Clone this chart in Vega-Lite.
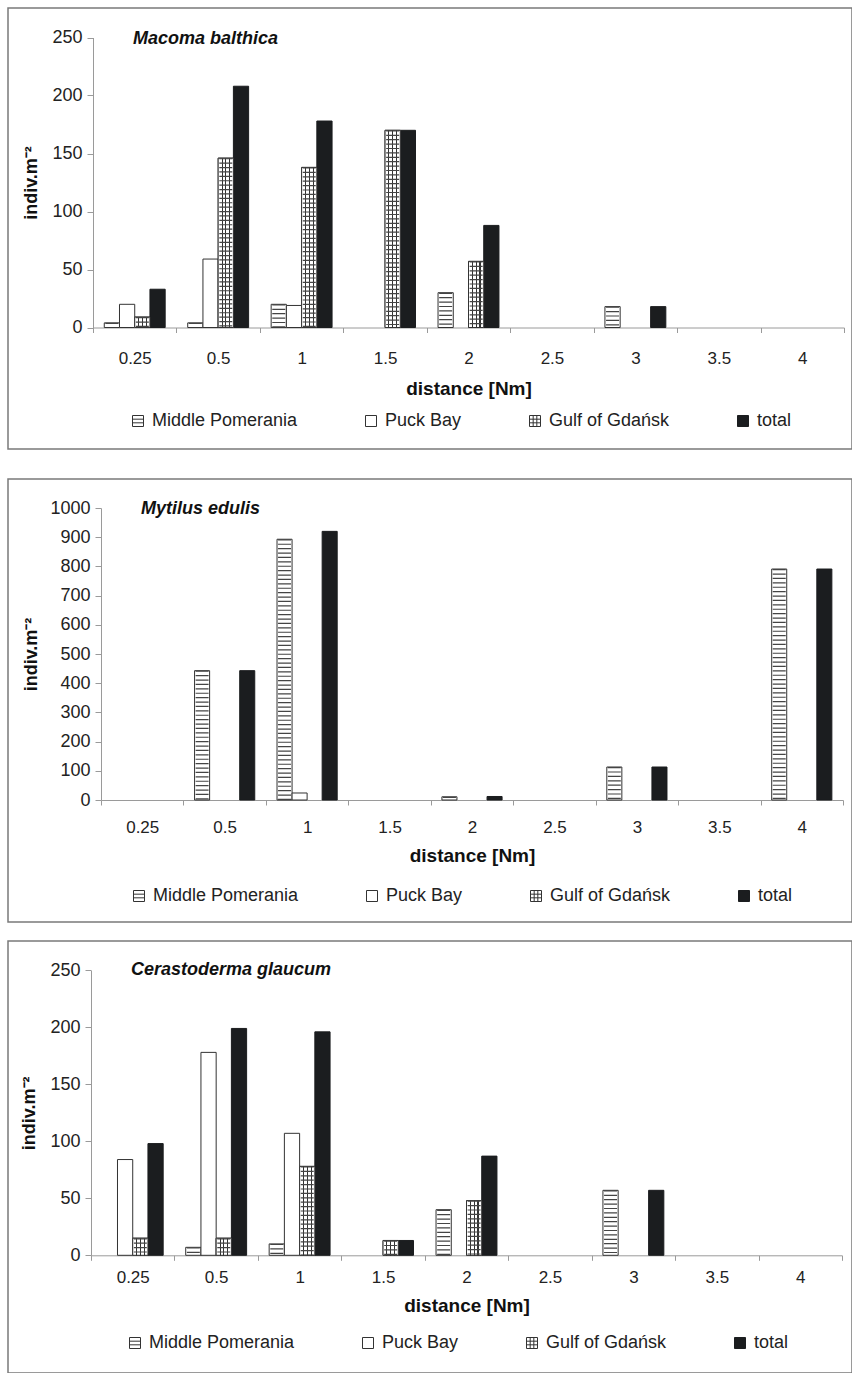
{
  "$schema": "https://vega.github.io/schema/vega-lite/v6.json",
  "padding": {"left": 7, "top": 7, "right": 0, "bottom": 0},
  "spacing": 17,
  "config": {
    "font": "Liberation Sans",
    "view": {"stroke": "#7a7a7a", "strokeWidth": 1.5},
    "axis": {"domainColor": "#9a9a9a", "tickColor": "#9a9a9a", "grid": false, "labelFont": "Liberation Sans", "titleFont": "Liberation Sans", "labelColor": "#222", "titleColor": "#111", "domainWidth": 1, "tickWidth": 1}
  },
  "resolve": {"scale": {"x": "independent", "y": "independent", "xOffset": "independent", "shape": "independent", "fill": "independent", "stroke": "independent"}, "legend": {"shape": "independent", "fill": "independent", "stroke": "independent"}, "axis": {"x": "independent", "y": "independent"}},
  "vconcat": [
    {
      "spacing": 28,
      "resolve": {"scale": {"x": "independent", "y": "independent", "xOffset": "independent", "shape": "independent", "fill": "independent", "stroke": "independent"}, "legend": {"shape": "independent", "fill": "independent", "stroke": "independent"}, "axis": {"x": "independent", "y": "independent"}},
      "vconcat": [
        {
          "width": 844, "height": 441,
          "title": {"text": "Macoma balthica", "anchor": "start", "frame": "group", "offset": 0, "baseline": "alphabetic", "dx": 125, "dy": 54, "fontSize": 18, "fontStyle": "italic", "fontWeight": "bold", "font": "Liberation Sans", "color": "#111"},
          "data": {"values": [
            {"dist": "0.25", "region": "Middle Pomerania", "value": 4},
            {"dist": "0.25", "region": "Puck Bay", "value": 20},
            {"dist": "0.25", "region": "Gulf of Gdańsk", "value": 9},
            {"dist": "0.25", "region": "total", "value": 33},
            {"dist": "0.5", "region": "Middle Pomerania", "value": 4},
            {"dist": "0.5", "region": "Puck Bay", "value": 59},
            {"dist": "0.5", "region": "Gulf of Gdańsk", "value": 146},
            {"dist": "0.5", "region": "total", "value": 208},
            {"dist": "1", "region": "Middle Pomerania", "value": 20},
            {"dist": "1", "region": "Puck Bay", "value": 19},
            {"dist": "1", "region": "Gulf of Gdańsk", "value": 138},
            {"dist": "1", "region": "total", "value": 178},
            {"dist": "1.5", "region": "Gulf of Gdańsk", "value": 170},
            {"dist": "1.5", "region": "total", "value": 170},
            {"dist": "2", "region": "Middle Pomerania", "value": 30},
            {"dist": "2", "region": "Gulf of Gdańsk", "value": 57},
            {"dist": "2", "region": "total", "value": 88},
            {"dist": "3", "region": "Middle Pomerania", "value": 18},
            {"dist": "3", "region": "total", "value": 18}
          ]},
          "encoding": {
            "x": {"field": "dist", "type": "ordinal", "scale": {"domain": ["0.25", "0.5", "1", "1.5", "2", "2.5", "3", "3.5", "4"], "range": [85, 836], "paddingInner": 0, "paddingOuter": 0},
              "axis": {"title": "distance [Nm]", "offset": -121.5, "tickBand": "extent", "tickSize": 5, "labelPadding": 18, "labelFontSize": 17, "labelAngle": 0, "titleFontSize": 19, "titleFontWeight": "bold", "titlePadding": 13}},
            "xOffset": {"field": "region", "type": "nominal", "scale": {"domain": ["Middle Pomerania", "Puck Bay", "Gulf of Gdańsk", "total"], "paddingInner": 0, "paddingOuter": 0.74}},
            "y": {"field": "value", "type": "quantitative", "stack": null, "scale": {"domain": [0, 250], "range": [319.5, 29.5], "nice": false},
              "axis": {"title": "indiv.m⁻²", "offset": -85, "values": [0, 50, 100, 150, 200, 250], "format": "d", "tickSize": 6, "labelPadding": 5, "labelFontSize": 18, "titleFontSize": 18, "titleFontWeight": "bold", "titlePadding": 11}}
          },
          "layer": [
            {"transform": [{"filter": "datum.region !== 'total'"}], "mark": {"type": "bar", "fill": "white", "stroke": "#333", "strokeWidth": 1}},
            {"transform": [{"filter": "datum.region === 'total'"}], "mark": {"type": "bar", "fill": "#1b1d1f", "stroke": "#1b1d1f", "strokeWidth": 1}},
            {"transform": [{"filter": "datum.region === 'Gulf of Gdańsk'"}], "mark": {"type": "bar", "stroke": "#333", "strokeWidth": 1, "fill": {"gradient": "linear", "x1": 0, "y1": 0, "x2": 1, "y2": 0, "stops": [{"offset": 0, "color": "white"}, {"offset": 0.22, "color": "white"}, {"offset": 0.22, "color": "#333"}, {"offset": 0.29, "color": "#333"}, {"offset": 0.29, "color": "white"}, {"offset": 0.47, "color": "white"}, {"offset": 0.47, "color": "#333"}, {"offset": 0.54, "color": "#333"}, {"offset": 0.54, "color": "white"}, {"offset": 0.72, "color": "white"}, {"offset": 0.72, "color": "#333"}, {"offset": 0.79, "color": "#333"}, {"offset": 0.79, "color": "white"}, {"offset": 1, "color": "white"}]}}},
            {"transform": [{"filter": "datum.region === 'Middle Pomerania' || datum.region === 'Gulf of Gdańsk'"}], "mark": {"type": "rule", "strokeWidth": 13, "strokeDash": [1.2, 3.2], "color": "#444"}, "encoding": {"y2": {"datum": 0}}},
            {"transform": [{"filter": "false"}], "mark": {"type": "point", "filled": true, "strokeWidth": 1, "opacity": 1},
              "encoding": {
                "shape": {"field": "region", "type": "nominal", "scale": {"domain": ["Middle Pomerania", "Puck Bay", "Gulf of Gdańsk", "total"], "range": ["M-1,-1H1V1H-1Z M-1,-0.33H1 M-1,0.33H1", "M-1,-1H1V1H-1Z", "M-1,-1H1V1H-1Z M-1,-0.33H1 M-1,0.33H1 M-0.33,-1V1 M0.33,-1V1", "M-1,-1H1V1H-1Z"]},
                  "legend": {"orient": "none", "legendX": 121, "legendY": 404, "direction": "horizontal", "columns": 4, "columnPadding": 64, "title": null, "symbolSize": 121, "symbolStrokeWidth": 1, "symbolOpacity": 1, "labelFontSize": 18, "labelFont": "Liberation Sans", "labelColor": "#222", "labelOffset": 5}},
                "fill": {"field": "region", "type": "nominal", "scale": {"domain": ["Middle Pomerania", "Puck Bay", "Gulf of Gdańsk", "total"], "range": ["white", "white", "white", "#1b1d1f"]},
                  "legend": {"orient": "none", "legendX": 121, "legendY": 404, "direction": "horizontal", "columns": 4, "columnPadding": 64, "title": null, "symbolSize": 121, "symbolStrokeWidth": 1, "symbolOpacity": 1, "labelFontSize": 18, "labelFont": "Liberation Sans", "labelColor": "#222", "labelOffset": 5}},
                "stroke": {"field": "region", "type": "nominal", "scale": {"domain": ["Middle Pomerania", "Puck Bay", "Gulf of Gdańsk", "total"], "range": ["#333", "#333", "#333", "#1b1d1f"]},
                  "legend": {"orient": "none", "legendX": 121, "legendY": 404, "direction": "horizontal", "columns": 4, "columnPadding": 64, "title": null, "symbolSize": 121, "symbolStrokeWidth": 1, "symbolOpacity": 1, "labelFontSize": 18, "labelFont": "Liberation Sans", "labelColor": "#222", "labelOffset": 5}}
              }}
          ]
        },
        {
          "width": 844, "height": 443,
          "title": {"text": "Mytilus edulis", "anchor": "start", "frame": "group", "offset": 0, "baseline": "alphabetic", "dx": 133, "dy": 53, "fontSize": 18, "fontStyle": "italic", "fontWeight": "bold", "font": "Liberation Sans", "color": "#111"},
          "data": {"values": [
            {"dist": "0.5", "region": "Middle Pomerania", "value": 443},
            {"dist": "0.5", "region": "total", "value": 443},
            {"dist": "1", "region": "Middle Pomerania", "value": 893},
            {"dist": "1", "region": "Puck Bay", "value": 24},
            {"dist": "1", "region": "total", "value": 920},
            {"dist": "2", "region": "Middle Pomerania", "value": 11},
            {"dist": "2", "region": "total", "value": 12},
            {"dist": "3", "region": "Middle Pomerania", "value": 113},
            {"dist": "3", "region": "total", "value": 113},
            {"dist": "4", "region": "Middle Pomerania", "value": 791},
            {"dist": "4", "region": "total", "value": 791}
          ]},
          "encoding": {
            "x": {"field": "dist", "type": "ordinal", "scale": {"domain": ["0.25", "0.5", "1", "1.5", "2", "2.5", "3", "3.5", "4"], "range": [93, 835], "paddingInner": 0, "paddingOuter": 0},
              "axis": {"title": "distance [Nm]", "offset": -122, "tickBand": "extent", "tickSize": 5, "labelPadding": 14, "labelFontSize": 17, "labelAngle": 0, "titleFontSize": 19, "titleFontWeight": "bold", "titlePadding": 11}},
            "xOffset": {"field": "region", "type": "nominal", "scale": {"domain": ["Middle Pomerania", "Puck Bay", "Gulf of Gdańsk", "total"], "paddingInner": 0, "paddingOuter": 0.74}},
            "y": {"field": "value", "type": "quantitative", "stack": null, "scale": {"domain": [0, 1000], "range": [321, 29], "nice": false},
              "axis": {"title": "indiv.m⁻²", "offset": -93, "values": [0, 100, 200, 300, 400, 500, 600, 700, 800, 900, 1000], "format": "d", "tickSize": 6, "labelPadding": 5, "labelFontSize": 18, "titleFontSize": 18, "titleFontWeight": "bold", "titlePadding": 9}}
          },
          "layer": [
            {"transform": [{"filter": "datum.region !== 'total'"}], "mark": {"type": "bar", "fill": "white", "stroke": "#333", "strokeWidth": 1}},
            {"transform": [{"filter": "datum.region === 'total'"}], "mark": {"type": "bar", "fill": "#1b1d1f", "stroke": "#1b1d1f", "strokeWidth": 1}},
            {"transform": [{"filter": "datum.region === 'Gulf of Gdańsk'"}], "mark": {"type": "bar", "stroke": "#333", "strokeWidth": 1, "fill": {"gradient": "linear", "x1": 0, "y1": 0, "x2": 1, "y2": 0, "stops": [{"offset": 0, "color": "white"}, {"offset": 0.22, "color": "white"}, {"offset": 0.22, "color": "#333"}, {"offset": 0.29, "color": "#333"}, {"offset": 0.29, "color": "white"}, {"offset": 0.47, "color": "white"}, {"offset": 0.47, "color": "#333"}, {"offset": 0.54, "color": "#333"}, {"offset": 0.54, "color": "white"}, {"offset": 0.72, "color": "white"}, {"offset": 0.72, "color": "#333"}, {"offset": 0.79, "color": "#333"}, {"offset": 0.79, "color": "white"}, {"offset": 1, "color": "white"}]}}},
            {"transform": [{"filter": "datum.region === 'Middle Pomerania' || datum.region === 'Gulf of Gdańsk'"}], "mark": {"type": "rule", "strokeWidth": 13, "strokeDash": [1.2, 3.2], "color": "#444"}, "encoding": {"y2": {"datum": 0}}},
            {"transform": [{"filter": "false"}], "mark": {"type": "point", "filled": true, "strokeWidth": 1, "opacity": 1},
              "encoding": {
                "shape": {"field": "region", "type": "nominal", "scale": {"domain": ["Middle Pomerania", "Puck Bay", "Gulf of Gdańsk", "total"], "range": ["M-1,-1H1V1H-1Z M-1,-0.33H1 M-1,0.33H1", "M-1,-1H1V1H-1Z", "M-1,-1H1V1H-1Z M-1,-0.33H1 M-1,0.33H1 M-0.33,-1V1 M0.33,-1V1", "M-1,-1H1V1H-1Z"]},
                  "legend": {"orient": "none", "legendX": 122, "legendY": 408, "direction": "horizontal", "columns": 4, "columnPadding": 64, "title": null, "symbolSize": 121, "symbolStrokeWidth": 1, "symbolOpacity": 1, "labelFontSize": 18, "labelFont": "Liberation Sans", "labelColor": "#222", "labelOffset": 5}},
                "fill": {"field": "region", "type": "nominal", "scale": {"domain": ["Middle Pomerania", "Puck Bay", "Gulf of Gdańsk", "total"], "range": ["white", "white", "white", "#1b1d1f"]},
                  "legend": {"orient": "none", "legendX": 122, "legendY": 408, "direction": "horizontal", "columns": 4, "columnPadding": 64, "title": null, "symbolSize": 121, "symbolStrokeWidth": 1, "symbolOpacity": 1, "labelFontSize": 18, "labelFont": "Liberation Sans", "labelColor": "#222", "labelOffset": 5}},
                "stroke": {"field": "region", "type": "nominal", "scale": {"domain": ["Middle Pomerania", "Puck Bay", "Gulf of Gdańsk", "total"], "range": ["#333", "#333", "#333", "#1b1d1f"]},
                  "legend": {"orient": "none", "legendX": 122, "legendY": 408, "direction": "horizontal", "columns": 4, "columnPadding": 64, "title": null, "symbolSize": 121, "symbolStrokeWidth": 1, "symbolOpacity": 1, "labelFontSize": 18, "labelFont": "Liberation Sans", "labelColor": "#222", "labelOffset": 5}}
              }}
          ]
        }
      ]
    },
    {
      "width": 844, "height": 432,
      "title": {"text": "Cerastoderma glaucum", "anchor": "start", "frame": "group", "offset": 0, "baseline": "alphabetic", "dx": 123, "dy": 52, "fontSize": 18, "fontStyle": "italic", "fontWeight": "bold", "font": "Liberation Sans", "color": "#111"},
      "data": {"values": [
        {"dist": "0.25", "region": "Puck Bay", "value": 84},
        {"dist": "0.25", "region": "Gulf of Gdańsk", "value": 15},
        {"dist": "0.25", "region": "total", "value": 98},
        {"dist": "0.5", "region": "Middle Pomerania", "value": 7},
        {"dist": "0.5", "region": "Puck Bay", "value": 178},
        {"dist": "0.5", "region": "Gulf of Gdańsk", "value": 15},
        {"dist": "0.5", "region": "total", "value": 199},
        {"dist": "1", "region": "Middle Pomerania", "value": 10},
        {"dist": "1", "region": "Puck Bay", "value": 107},
        {"dist": "1", "region": "Gulf of Gdańsk", "value": 78},
        {"dist": "1", "region": "total", "value": 196},
        {"dist": "1.5", "region": "Gulf of Gdańsk", "value": 13},
        {"dist": "1.5", "region": "total", "value": 13},
        {"dist": "2", "region": "Middle Pomerania", "value": 40},
        {"dist": "2", "region": "Gulf of Gdańsk", "value": 48},
        {"dist": "2", "region": "total", "value": 87},
        {"dist": "3", "region": "Middle Pomerania", "value": 57},
        {"dist": "3", "region": "total", "value": 57}
      ]},
      "encoding": {
        "x": {"field": "dist", "type": "ordinal", "scale": {"domain": ["0.25", "0.5", "1", "1.5", "2", "2.5", "3", "3.5", "4"], "range": [83, 834], "paddingInner": 0, "paddingOuter": 0},
          "axis": {"title": "distance [Nm]", "offset": -117.7, "tickBand": "extent", "tickSize": 5, "labelPadding": 9, "labelFontSize": 17, "labelAngle": 0, "titleFontSize": 19, "titleFontWeight": "bold", "titlePadding": 11}},
        "xOffset": {"field": "region", "type": "nominal", "scale": {"domain": ["Middle Pomerania", "Puck Bay", "Gulf of Gdańsk", "total"], "paddingInner": 0, "paddingOuter": 0.74}},
        "y": {"field": "value", "type": "quantitative", "stack": null, "scale": {"domain": [0, 250], "range": [314.3, 29.3], "nice": false},
          "axis": {"title": "indiv.m⁻²", "offset": -83, "values": [0, 50, 100, 150, 200, 250], "format": "d", "tickSize": 6, "labelPadding": 5, "labelFontSize": 18, "titleFontSize": 18, "titleFontWeight": "bold", "titlePadding": 11}}
      },
      "layer": [
        {"transform": [{"filter": "datum.region !== 'total'"}], "mark": {"type": "bar", "fill": "white", "stroke": "#333", "strokeWidth": 1}},
        {"transform": [{"filter": "datum.region === 'total'"}], "mark": {"type": "bar", "fill": "#1b1d1f", "stroke": "#1b1d1f", "strokeWidth": 1}},
        {"transform": [{"filter": "datum.region === 'Gulf of Gdańsk'"}], "mark": {"type": "bar", "stroke": "#333", "strokeWidth": 1, "fill": {"gradient": "linear", "x1": 0, "y1": 0, "x2": 1, "y2": 0, "stops": [{"offset": 0, "color": "white"}, {"offset": 0.22, "color": "white"}, {"offset": 0.22, "color": "#333"}, {"offset": 0.29, "color": "#333"}, {"offset": 0.29, "color": "white"}, {"offset": 0.47, "color": "white"}, {"offset": 0.47, "color": "#333"}, {"offset": 0.54, "color": "#333"}, {"offset": 0.54, "color": "white"}, {"offset": 0.72, "color": "white"}, {"offset": 0.72, "color": "#333"}, {"offset": 0.79, "color": "#333"}, {"offset": 0.79, "color": "white"}, {"offset": 1, "color": "white"}]}}},
        {"transform": [{"filter": "datum.region === 'Middle Pomerania' || datum.region === 'Gulf of Gdańsk'"}], "mark": {"type": "rule", "strokeWidth": 13, "strokeDash": [1.2, 3.2], "color": "#444"}, "encoding": {"y2": {"datum": 0}}},
        {"transform": [{"filter": "false"}], "mark": {"type": "point", "filled": true, "strokeWidth": 1, "opacity": 1},
          "encoding": {
            "shape": {"field": "region", "type": "nominal", "scale": {"domain": ["Middle Pomerania", "Puck Bay", "Gulf of Gdańsk", "total"], "range": ["M-1,-1H1V1H-1Z M-1,-0.33H1 M-1,0.33H1", "M-1,-1H1V1H-1Z", "M-1,-1H1V1H-1Z M-1,-0.33H1 M-1,0.33H1 M-0.33,-1V1 M0.33,-1V1", "M-1,-1H1V1H-1Z"]},
              "legend": {"orient": "none", "legendX": 118, "legendY": 393, "direction": "horizontal", "columns": 4, "columnPadding": 64, "title": null, "symbolSize": 121, "symbolStrokeWidth": 1, "symbolOpacity": 1, "labelFontSize": 18, "labelFont": "Liberation Sans", "labelColor": "#222", "labelOffset": 5}},
            "fill": {"field": "region", "type": "nominal", "scale": {"domain": ["Middle Pomerania", "Puck Bay", "Gulf of Gdańsk", "total"], "range": ["white", "white", "white", "#1b1d1f"]},
              "legend": {"orient": "none", "legendX": 118, "legendY": 393, "direction": "horizontal", "columns": 4, "columnPadding": 64, "title": null, "symbolSize": 121, "symbolStrokeWidth": 1, "symbolOpacity": 1, "labelFontSize": 18, "labelFont": "Liberation Sans", "labelColor": "#222", "labelOffset": 5}},
            "stroke": {"field": "region", "type": "nominal", "scale": {"domain": ["Middle Pomerania", "Puck Bay", "Gulf of Gdańsk", "total"], "range": ["#333", "#333", "#333", "#1b1d1f"]},
              "legend": {"orient": "none", "legendX": 118, "legendY": 393, "direction": "horizontal", "columns": 4, "columnPadding": 64, "title": null, "symbolSize": 121, "symbolStrokeWidth": 1, "symbolOpacity": 1, "labelFontSize": 18, "labelFont": "Liberation Sans", "labelColor": "#222", "labelOffset": 5}}
          }}
      ]
    }
  ]
}
